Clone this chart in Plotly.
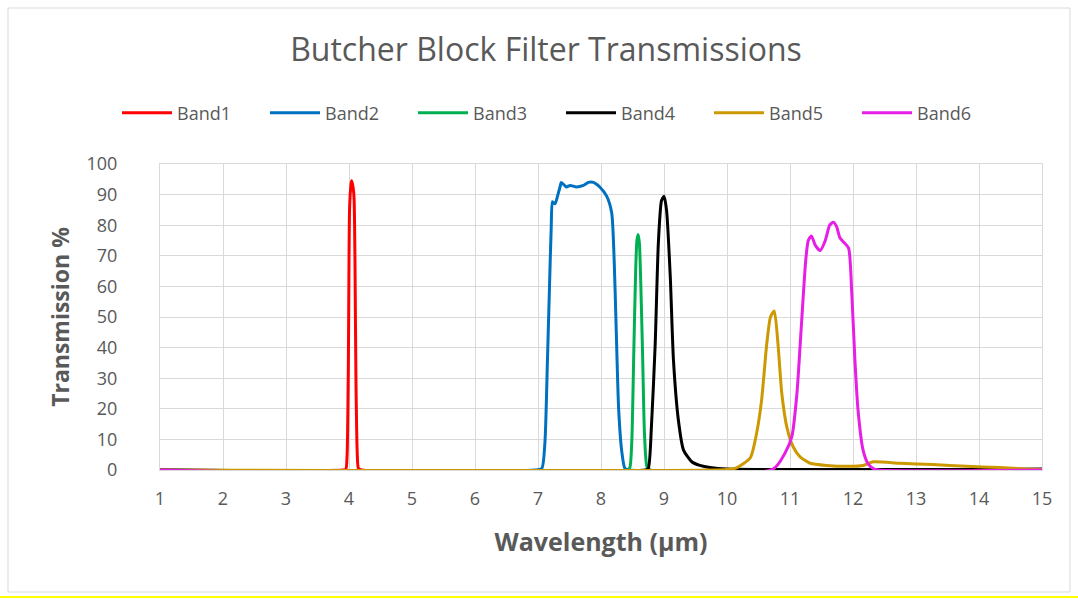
import plotly.graph_objects as go

# ---- data ----
band1_x = [1.0, 3.9, 3.95, 3.97, 3.99, 4.00, 4.01, 4.03, 4.04, 4.06, 4.08, 4.095, 4.11, 4.13, 4.15, 4.2, 15.0]
band1_y = [0, 0, 0.3, 5, 35, 68, 86, 93, 94.5, 93, 89, 68, 30, 6, 0.5, 0, 0]

band2_x = [1.0, 6.95, 7.06, 7.11, 7.15, 7.18, 7.21, 7.23, 7.27, 7.31, 7.35, 7.37, 7.45, 7.51, 7.61, 7.72,
           7.80, 7.88, 7.98, 8.09, 8.17, 8.21, 8.24, 8.28, 8.33, 8.38, 8.45, 15.0]
band2_y = [0, 0, 0.5, 9, 36, 58, 79.5, 87.7, 87, 89.5, 92.5, 94, 92.5, 93, 92.5, 93,
           94, 94, 92.5, 89.5, 84, 68, 47, 20, 6, 0.5, 0, 0]

band3_x = [1.0, 8.42, 8.46, 8.49, 8.52, 8.55, 8.57, 8.59, 8.61, 8.63, 8.66, 8.69, 8.73, 8.78, 15.0]
band3_y = [0, 0, 1, 10, 38, 65, 75, 77, 74, 62, 38, 12, 1, 0, 0]

band4_x = [1.0, 8.70, 8.75, 8.80, 8.86, 8.91, 8.96, 9.00, 9.04, 9.10, 9.15, 9.23, 9.31, 9.44, 9.57, 9.73, 10.0, 15.0]
band4_y = [0, 0, 0.5, 14, 41, 74, 88, 89.5, 85, 63, 36, 16, 6.5, 2.7, 1.5, 0.8, 0.3, 0.3]

band5_x = [1.0, 10.0, 10.15, 10.37, 10.47, 10.55, 10.63, 10.69, 10.75, 10.81, 10.87, 10.95, 11.05, 11.16,
           11.32, 11.58, 11.95, 12.16, 12.32, 12.75, 13.27, 13.80, 14.33, 14.76, 15.0]
band5_y = [0, 0.2, 0.7, 4, 12, 23, 41, 50, 52, 41, 25, 14, 7.6, 4.3,
           2.2, 1.5, 1.2, 1.5, 2.7, 2.2, 1.8, 1.2, 0.8, 0.3, 0.2]

band6_x = [1.0, 10.73, 10.92, 11.03, 11.11, 11.18, 11.25, 11.29, 11.34, 11.40, 11.48, 11.56, 11.63, 11.69,
           11.74, 11.79, 11.85, 11.93, 11.98, 12.03, 12.08, 12.16, 12.24, 12.32, 12.4, 15.0]
band6_y = [0, 0.3, 5.5, 11, 25, 47, 68.6, 75, 76.5, 73.5, 71.7, 75, 80, 81,
           79.5, 76, 74.5, 72.5, 58, 36, 19.6, 6.5, 2, 0.5, 0, 0]

band_names = ["Band1", "Band2", "Band3", "Band4", "Band5", "Band6"]
band_colors = ["#FF0000", "#0070C0", "#00B050", "#000000", "#CC9900", "#E61EE6"]
x_ticks = list(range(1, 16))
y_ticks = list(range(0, 101, 10))

series = [(band1_x, band1_y), (band2_x, band2_y), (band3_x, band3_y),
          (band4_x, band4_y), (band5_x, band5_y), (band6_x, band6_y)]

fig = go.Figure()
for (xs, ys), name, col in zip(series, band_names, band_colors):
    fig.add_trace(go.Scatter(x=xs, y=ys, mode="lines", name=name,
                             line=dict(color=col, width=3, shape="spline", smoothing=0.6)))

FONT = "'Open Sans', Lato, sans-serif"
GREY = "#595959"
GRID = "#D9D9D9"

W, H = 1078, 602
L, R, T, B = 160, 1042, 164, 470

def px_x(p):
    return (p - L) / (R - L)

def px_y(p):
    return (B - p) / (B - T)

fig.update_layout(
    width=W, height=H,
    margin=dict(l=L, r=W - R, t=T, b=H - B),
    paper_bgcolor="white", plot_bgcolor="white",
    font=dict(family=FONT, color=GREY),
    title=dict(text="Butcher Block Filter Transmissions", x=546 / W, xref="container",
               xanchor="center", y=1 - 50 / H, yanchor="middle",
               font=dict(size=32, color=GREY, family=FONT)),
    legend=dict(orientation="h", x=px_x(117), xanchor="left", y=px_y(113), yanchor="middle",
                font=dict(size=18, color=GREY), entrywidth=83, entrywidthmode="pixels",
                itemwidth=50, bgcolor="rgba(0,0,0,0)"),
    showlegend=True,
    xaxis=dict(range=[1, 15], tickvals=x_ticks, showgrid=True, gridcolor=GRID, gridwidth=1,
               zeroline=False, showline=True, linecolor=GRID, mirror=True,
               tickfont=dict(size=18, color=GREY), ticks="", ticklabelstandoff=12,
               title=dict(text="<b>Wavelength (µm)</b>", font=dict(size=25, color=GREY), standoff=24)),
    yaxis=dict(range=[0, 100], tickvals=y_ticks, showgrid=True, gridcolor=GRID, gridwidth=1,
               zeroline=False, showline=True, linecolor=GRID, mirror=True,
               tickfont=dict(size=18, color=GREY), ticks="", ticklabelstandoff=38,
               title=dict(text="<b>Transmission %</b>", font=dict(size=23, color=GREY), standoff=10)),
    shapes=[
        dict(type="rect", xref="paper", yref="paper",
             x0=px_x(8), x1=px_x(1070), y0=px_y(592), y1=px_y(8),
             line=dict(color="#D9D9D9", width=1), layer="below"),
        dict(type="line", xref="paper", yref="paper",
             x0=px_x(0), x1=px_x(1078), y0=px_y(597), y1=px_y(597),
             line=dict(color="#FFFF00", width=2)),
    ],
)

fig.write_html("out.html")
